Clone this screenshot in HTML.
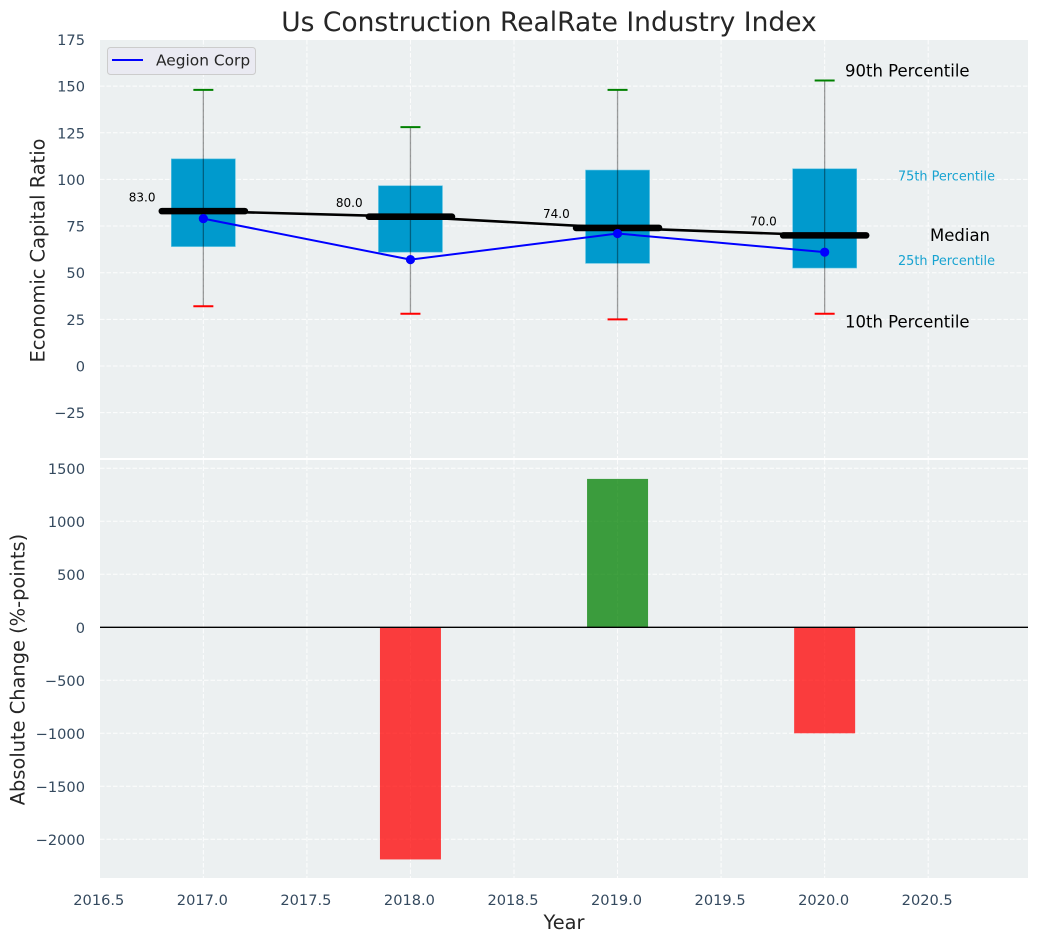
<!DOCTYPE html>
<html lang="en">
<head>
<meta charset="utf-8">
<title>Us Construction RealRate Industry Index</title>
<style>
html,body{margin:0;padding:0;background:#fff;overflow:hidden;}
svg{display:block;font-family:"DejaVu Sans","Liberation Sans",sans-serif;}
</style>
</head>
<body>
<svg id="chart" width="1039" height="942" viewBox="0 0 1039 942" xmlns="http://www.w3.org/2000/svg">
  <text x="549" y="31" text-anchor="middle" font-size="26.5" fill="#262626">Us Construction RealRate Industry Index</text>
  <rect x="100" y="40" width="928" height="418" fill="#ecf0f1"/>
  <rect x="100" y="460" width="928" height="418" fill="#ecf0f1"/>
  <g id="grid"></g>
  <g id="bars"></g>
  <g id="boxes"></g>
  <g id="lines"></g>
  <g id="labels"></g>
  <g id="ticks"></g>
  <text transform="translate(44.5,250.5) rotate(-90)" text-anchor="middle" font-size="19.4" fill="#262626">Economic Capital Ratio</text>
  <text transform="translate(24.5,669.5) rotate(-90)" text-anchor="middle" font-size="19.4" fill="#262626">Absolute Change (%-points)</text>
  <text x="564" y="929" text-anchor="middle" font-size="19.4" fill="#262626">Year</text>
  <g>
    <rect x="107.5" y="47.5" width="148" height="27" rx="3" fill="#eaeaf2" stroke="#cccccc" stroke-width="1"/>
    <line x1="112" y1="60" x2="143" y2="60" stroke="#0000ff" stroke-width="2"/>
    <text x="156" y="65.5" font-size="15.4" fill="#262626">Aegion Corp</text>
  </g>
</svg>
<script>
const years = [2017, 2018, 2019, 2020];
const p90 = [148, 128, 148, 153];
const p75 = [111, 96.6, 105, 105.7];
const medians = [83, 80, 74, 70];
const p25 = [64, 61, 55, 52.5];
const p10 = [32, 28, 25, 28];
const companyValues = [79, 57, 71, 61];
const changeValues = [0, -2190, 1400, -1000];
const xTicks = [2016.5, 2017, 2017.5, 2018, 2018.5, 2019, 2019.5, 2020, 2020.5];
const yTicksTop = [-25, 0, 25, 50, 75, 100, 125, 150, 175];
const yTicksBottom = [-2000, -1500, -1000, -500, 0, 500, 1000, 1500];

const NS = 'http://www.w3.org/2000/svg';
const x = v => 99.8 + (v - 2016.5) * 207.1;
const yTop = v => 366 - v * 1.866;
const yBottom = v => 627.3 - v * 0.106;

function make(parent, tag, props, content) {
  const node = document.createElementNS(NS, tag);
  Object.keys(props).forEach(k => node.setAttribute(k, props[k]));
  if (content !== undefined) node.textContent = content;
  document.getElementById(parent).appendChild(node);
  return node;
}
const fmtTick = v => (v < 0 ? '\u2212' + Math.abs(v) : String(v));
const GRID = {stroke: '#ffffff', 'stroke-width': 1, 'stroke-dasharray': '4.5,2', opacity: 0.9};
const TICK = '#34495e';

/* grid */
xTicks.forEach(t => {
  if (t === 2016.5) return;
  [[40, 458], [460, 878]].forEach(r => {
    const g = make('grid', 'line', Object.assign({x1: x(t), x2: x(t), y1: r[0], y2: r[1]}, GRID));
    
    
  });
});
yTicksTop.forEach(t => {
  if (t === 175) return;
  const g = make('grid', 'line', Object.assign({x1: 100, x2: 1028, y1: yTop(t), y2: yTop(t)}, GRID));
  
  
});
yTicksBottom.forEach(t => {
  const g = make('grid', 'line', Object.assign({x1: 100, x2: 1028, y1: yBottom(t), y2: yBottom(t)}, GRID));
  
  
});

/* change bars */
years.forEach((yr, i) => {
  const v = changeValues[i];
  if (v === 0) return;
  const top = Math.min(yBottom(v), yBottom(0));
  const b = make('bars', 'rect', {
    x: x(yr) - 30.5, y: top, width: 61,
    height: Math.abs(yBottom(v) - yBottom(0)),
    fill: v < 0 ? '#ff0000' : '#008000', 'fill-opacity': 0.75
  });
  
  
});
const zero = make('bars', 'line', {x1: 100, x2: 1028, y1: yBottom(0), y2: yBottom(0), stroke: '#000000', 'stroke-width': 1.3});



/* percentile boxes and whiskers */
years.forEach((yr, i) => {
  const cx = x(yr);
  const box = make('boxes', 'rect', {
    x: cx - 32, y: yTop(p75[i]), width: 64, height: yTop(p25[i]) - yTop(p75[i]),
    fill: '#009acd', stroke: '#5cc3e3', 'stroke-width': 0.6
  });
  
  
  const whisk = make('boxes', 'line', {x1: cx, x2: cx, y1: yTop(p90[i]), y2: yTop(p10[i]), stroke: '#000000', 'stroke-opacity': 0.38, 'stroke-width': 1.3});
  
  
  const capHi = make('boxes', 'line', {x1: cx - 10, x2: cx + 10, y1: yTop(p90[i]), y2: yTop(p90[i]), stroke: '#008000', 'stroke-width': 2});
  
  
  const capLo = make('boxes', 'line', {x1: cx - 10, x2: cx + 10, y1: yTop(p10[i]), y2: yTop(p10[i]), stroke: '#ff0000', 'stroke-width': 2});
  
  
});

/* median connector, company line, median bars, points */
const medianPath = make('lines', 'polyline', {
  points: years.map((yr, i) => x(yr) + ',' + yTop(medians[i])).join(' '),
  fill: 'none', stroke: '#000000', 'stroke-width': 2.6
});


const companyPath = make('lines', 'polyline', {
  points: years.map((yr, i) => x(yr) + ',' + yTop(companyValues[i])).join(' '),
  fill: 'none', stroke: '#0000ff', 'stroke-width': 2
});


years.forEach((yr, i) => {
  const m = make('lines', 'line', {
    x1: x(yr) - 41.5, x2: x(yr) + 41.5, y1: yTop(medians[i]), y2: yTop(medians[i]),
    stroke: '#000000', 'stroke-width': 6.6, 'stroke-linecap': 'round'
  });
  
  
  const d = make('lines', 'circle', {cx: x(yr), cy: yTop(companyValues[i]), r: 4.6, fill: '#0000ff'});
  
  
  const t = make('labels', 'text', {x: x(yr) - 0.36 * 207.1, y: yTop(medians[i] + 7) + 3.2, 'font-size': 12, fill: '#000000'}, medians[i].toFixed(1));
  
  
});

/* percentile key beside the last box */
const last = years.length - 1;
const key1 = make('labels', 'text', {x: 845, y: yTop(p90[last] + 5) + 5.5, 'font-size': 16.5, fill: '#000000'}, '90th Percentile');


const key2 = make('labels', 'text', {x: 898, y: yTop(p75[last] - 4) + 4.5, 'font-size': 12.85, fill: '#009acd', 'fill-opacity': 0.9}, '75th Percentile');


const key3 = make('labels', 'text', {x: 930, y: yTop(medians[last]) + 5.5, 'font-size': 16.5, fill: '#000000'}, 'Median');


const key4 = make('labels', 'text', {x: 898, y: yTop(p25[last] + 4) + 4.5, 'font-size': 12.85, fill: '#009acd', 'fill-opacity': 0.9}, '25th Percentile');


const key5 = make('labels', 'text', {x: 845, y: yTop(p10[last] - 5) + 4.5, 'font-size': 16.5, fill: '#000000'}, '10th Percentile');



/* tick labels */
xTicks.forEach(t => {
  const l = make('ticks', 'text', {x: x(t) - 1, y: 905, 'text-anchor': 'middle', 'font-size': 14.6, fill: TICK}, t.toFixed(1));
  
  
});
yTicksTop.forEach(t => {
  const l = make('ticks', 'text', {x: 85, y: yTop(t) + 5.5, 'text-anchor': 'end', 'font-size': 14.6, fill: TICK}, fmtTick(t));
  
  
});
yTicksBottom.forEach(t => {
  const l = make('ticks', 'text', {x: 85, y: yBottom(t) + 5.5, 'text-anchor': 'end', 'font-size': 14.6, fill: TICK}, fmtTick(t));
  
  
});
</script>
</body>
</html>
